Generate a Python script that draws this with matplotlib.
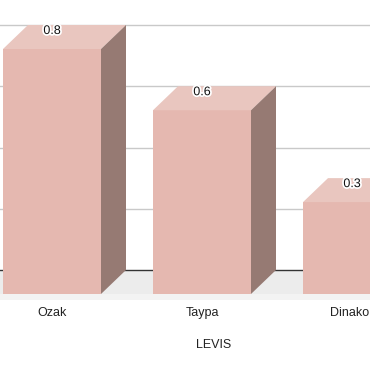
import numpy as np
import matplotlib.pyplot as plt
from matplotlib import patheffects

categories = ['Ozak', 'Taypa', 'Dinakor']
values = [0.8, 0.6, 0.3]
grid_values = [0.2, 0.4, 0.6, 0.8]
axis_title = 'LEVIS'

plt.rcParams['font.family'] = ['Liberation Sans', 'DejaVu Sans']

fig = plt.figure(figsize=(3.70, 3.71), dpi=100)
ax = fig.add_axes([0, 0, 1, 1])
# one category = 150 px, 0.2 of value = 61.25 px
ax.set_xlim(-52 / 150, 318 / 150)
ax.set_ylim(-101 / 306.25, 270 / 306.25)
ax.axis('off')

dx, dy = 25 / 150, 24 / 306.25   # 3D depth
hw = 49 / 150                    # half bar width

# floor
x0, x1 = -1, 4
ax.fill([x0, x1, x1 - dx, x0 - dx], [0, 0, -dy, -dy], color='#ececec', lw=0, zorder=1)
ax.fill([x0 - dx, x1 - dx, x1 - dx, x0 - dx], [-dy, -dy, -dy - 6 / 306.25, -dy - 6 / 306.25],
        color='#f3f3f3', lw=0, zorder=1)

# back wall grid + baseline
ax.hlines(grid_values, x0, x1, color='#c9c9c9', lw=1, zorder=2)
ax.hlines(0, x0, x1, color='#333333', lw=1, zorder=2)

for i, v in enumerate(values):
    xl, xr = i - hw, i + hw
    # front face
    ax.fill([xl, xr, xr, xl], [-dy, -dy, v - dy, v - dy], color='#e5b8b0', lw=0, zorder=3)
    # top face
    ax.fill([xl, xr, xr + dx, xl + dx], [v - dy, v - dy, v, v], color='#e9c6bf', lw=0, zorder=3)
    # side face
    ax.fill([xr, xr + dx, xr + dx, xr], [-dy, 0, v, v - dy], color='#967a73', lw=0, zorder=3)
    ax.annotate(f'{v:g}', (i, v), xytext=(0, -4.3), textcoords='offset points',
                ha='center', va='center', fontsize=9, color='#111111', zorder=5,
                path_effects=[patheffects.withStroke(linewidth=2.5, foreground='white')])
    ax.text(i, -43 / 306.25, categories[i], ha='center', va='center',
            fontsize=9, color='#222222', zorder=5)

ax.text(162 / 150, -75 / 306.25, axis_title, ha='center', va='center',
        fontsize=9, color='#222222', zorder=5)

fig.savefig('out.png', dpi=100)
